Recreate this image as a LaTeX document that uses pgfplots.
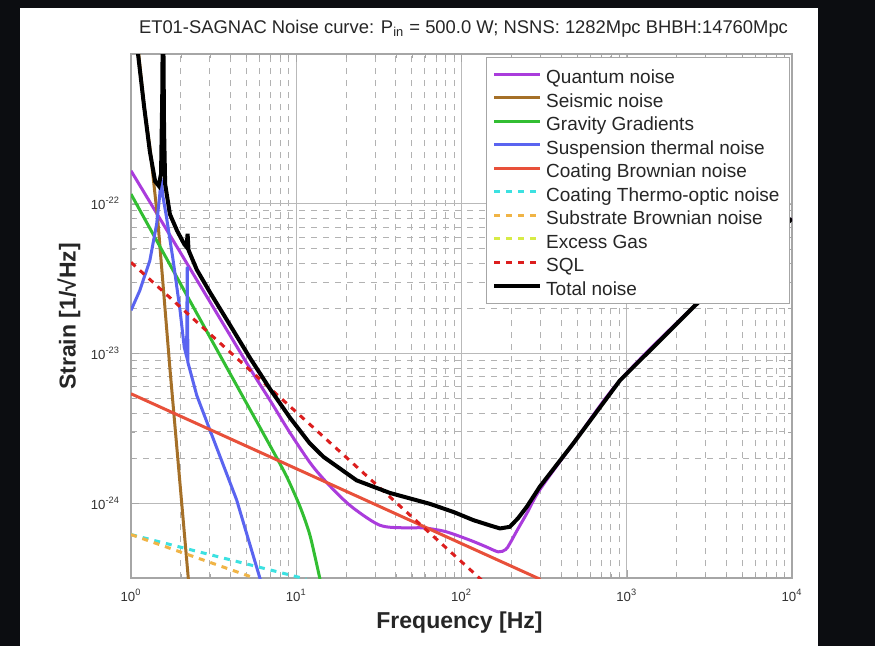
\documentclass[border=0pt]{standalone}
\usepackage{fontspec}
\setmainfont{Liberation Sans}
\usepackage{pgfplots}
\pgfplotsset{compat=1.18}
\definecolor{bgdark}{RGB}{12,13,17}
\definecolor{qcol}{RGB}{170,60,220}
\definecolor{scol}{RGB}{165,112,40}
\definecolor{gcol}{RGB}{50,190,50}
\definecolor{bcol}{RGB}{90,100,240}
\definecolor{ccol}{RGB}{232,80,58}
\definecolor{tcol}{RGB}{60,225,225}
\definecolor{ocol}{RGB}{240,180,70}
\definecolor{ycol}{RGB}{215,235,70}
\definecolor{sqlcol}{RGB}{220,30,30}
\begin{document}
\begin{tikzpicture}[x=1pt,y=1pt]
\useasboundingbox (0,0) rectangle (437.5,323);
\fill[bgdark] (0,0) rectangle (437.5,323);
\fill[white] (10,0) rectangle (409,319);
\begin{axis}[
  at={(65.5pt,34pt)}, anchor=south west,
  width=330.5pt, height=262pt, scale only axis,
  xmode=log, ymode=log,
  xmin=1, xmax=10000, ymin=3.1623e-25, ymax=1e-21,
  xtick={1,10,100,1000,10000},
  xticklabels={10\textsuperscript{0},10\textsuperscript{1},10\textsuperscript{2},10\textsuperscript{3},10\textsuperscript{4}},
  ytick={1e-24,1e-23,1e-22},
  yticklabels={10\textsuperscript{-24},10\textsuperscript{-23},10\textsuperscript{-22}},
  ticklabel style={font=\fontsize{6.6}{8}\selectfont, text=black!80},
  yticklabel style={xshift=-2pt},
  xticklabel style={yshift=-2pt},
  grid=both,
  major grid style={gray!55, line width=0.6pt},
  minor grid style={gray!60, dashed, line width=0.4pt},
  tick align=inside,
  major tick length=4pt, minor tick length=2pt,
  tick style={gray!70},
  axis line style={gray!70, line width=0.6pt},
  legend cell align=left,
  legend image code/.code={\draw[#1] (0pt,0pt) -- (23pt,0pt);},
  legend style={at={(rel axis cs:1,1)}, anchor=north east, xshift=-1pt, yshift=-1.5pt,
    draw=gray!70, fill=white, font=\fontsize{9.5}{10}\selectfont, text=black!85,
    inner xsep=3pt, inner ysep=3pt, row sep=0.75pt,
    nodes={inner ysep=0.9pt, text height=9.2pt, text depth=0pt}},
]
% Quantum noise
\addplot[qcol, line width=1.5pt, smooth] coordinates {
(1,1.66e-22) (2,4.68e-23) (3,2.22e-23) (5.25,7.94e-24) (7,4.79e-24) (9.17,2.95e-24)
(12.5,1.78e-24) (16.8,1.23e-24) (22,9.33e-25) (32,7.13e-25) (45,6.84e-25) (58.7,6.84e-25)
(80,6.46e-25) (112.6,5.66e-25) (140,5.13e-25) (167,4.73e-25) (185,4.90e-25) (196,5.37e-25)
(220,6.76e-25) (248,8.51e-25) (298,1.23e-24) (475,2.51e-24) (910,6.61e-24) (2588,2.09e-23) (10000,7.94e-23)};
\addlegendentry{Quantum noise}
% Seismic
\addplot[scol, line width=1.5pt] coordinates {
(1.09,1.26e-21) (1.2,4.47e-22) (1.3,2.40e-22) (1.45,7.94e-23) (1.72,7.94e-24) (2.25,2.69e-25)};
\addlegendentry{Seismic noise}
% Gravity gradients
\addplot[gcol, line width=1.5pt, smooth] coordinates {
(1,1.16e-22) (2,2.90e-23) (4,7.26e-24) (6,3.24e-24) (8,1.82e-24) (9,1.41e-24)
(10.6,9.33e-25) (12,6.31e-25) (13,4.37e-25) (14,3.02e-25)};
\addlegendentry{Gravity Gradients}
% Suspension thermal
\addplot[bcol, line width=1.5pt] coordinates {
(1,1.94e-23) (1.13,2.63e-23) (1.30,4.17e-23) (1.43,7.33e-23) (1.49,1.12e-22) (1.52,1.48e-22)
(1.56,1.12e-22) (1.64,8.13e-23) (1.8,4.17e-23) (1.98,1.95e-23) (2.1,1.10e-23) (2.17,9.55e-24)
(2.19,3.80e-23) (2.21,8.71e-24) (2.5,5.25e-24) (3.0,3.09e-24) (4.36,1.05e-24) (5,6.31e-25) (6.1,3.02e-25)};
\addlegendentry{Suspension thermal noise}
% Coating Brownian
\addplot[ccol, line width=1.5pt] coordinates {(1,5.38e-24) (300,3.1e-25)};
\addlegendentry{Coating Brownian noise}
% Coating thermo-optic
\addplot[tcol, line width=1.5pt, dashed] coordinates {(1,6.17e-25) (11.5,3.11e-25)};
\addlegendentry{Coating Thermo-optic noise}
% Substrate Brownian
\addplot[ocol, line width=1.5pt, dashed] coordinates {(1,6.17e-25) (5.6,3.16e-25)};
\addlegendentry{Substrate Brownian noise}
% Excess gas (below visible range)
\addlegendimage{ycol, line width=1.5pt, dashed}
\addlegendentry{Excess Gas}
% SQL
\addplot[sqlcol, line width=1.5pt, dashed] coordinates {(1,4.06e-23) (140,2.9e-25)};
\addlegendentry{SQL}
% Total
\addplot[black, line width=2pt] coordinates {
(1.09,1.12e-21) (1.2,4.47e-22) (1.3,2.24e-22) (1.4,1.41e-22) (1.47,1.32e-22) (1.52,1.58e-22)
(1.545,5.01e-22) (1.555,1.26e-21) (1.57,1.26e-21) (1.585,3.16e-22) (1.61,1.35e-22) (1.72,8.51e-23)
(1.9,6.61e-23) (2.1,5.37e-23) (2.17,5.13e-23) (2.2,6.31e-23) (2.23,4.9e-23) (2.5,3.63e-23)
(3,2.57e-23) (4,1.53e-23) (5.25,9.33e-24) (7,5.71e-24) (9.17,3.72e-24) (12,2.53e-24)
(14.6,2.04e-24) (23.2,1.42e-24) (36.9,1.17e-24) (64.5,9.89e-25) (90,8.71e-25) (117.8,7.71e-25)
(150,7.08e-25) (171,6.78e-25) (196,6.95e-25) (220,7.94e-25) (248,9.44e-25) (298,1.29e-24)
(475,2.51e-24) (910,6.61e-24) (2588,2.09e-23) (10000,7.94e-23)};
\addlegendentry{Total noise}
\end{axis}
\node[font=\fontsize{9.2}{10}\selectfont, text=black!85] at (231.75,308.5)
  {ET01-SAGNAC Noise curve: P\textsubscript{in} = 500.0 W; NSNS: 1282Mpc BHBH:14760Mpc};
\node[font=\bfseries\fontsize{11.5}{12}\selectfont, text=black!85] at (229.75,11.5) {Frequency [Hz]};
\node[rotate=90, font=\bfseries\fontsize{11.5}{12}\selectfont, text=black!85] at (34.5,164.75) {Strain [1/√Hz]};
\end{tikzpicture}
\end{document}
